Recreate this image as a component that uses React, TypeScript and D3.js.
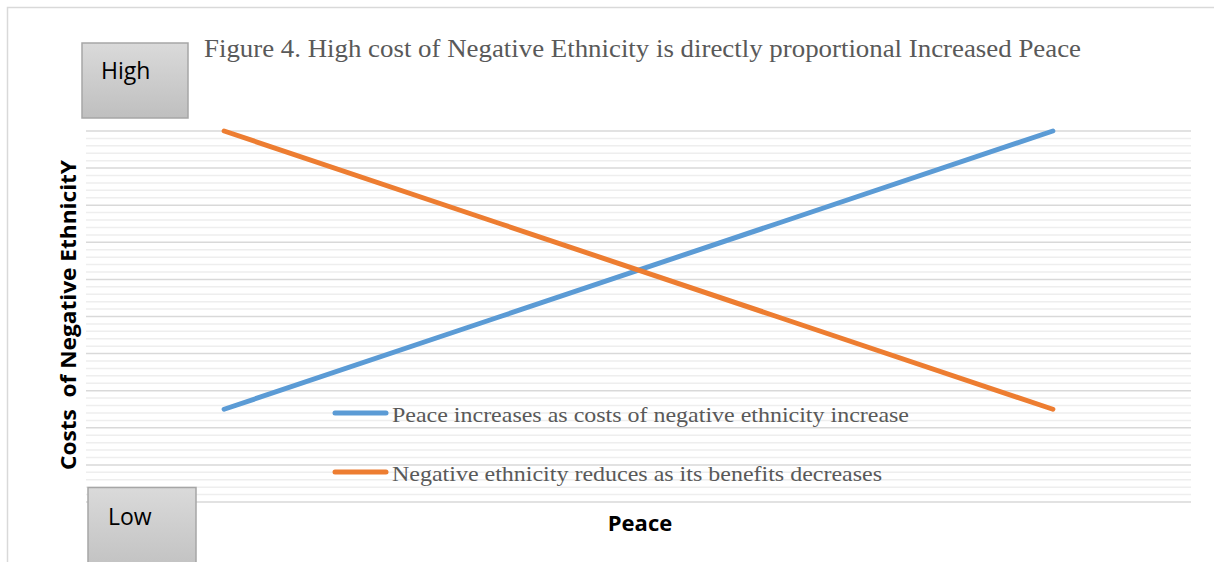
import React from "react";
import * as d3 from "d3";

// Chart data
const categories = ["1", "2", "3", "4"];
const peaceValues = [2.5, 5, 7.5, 10];
const ethnicityValues = [10, 7.5, 5, 2.5];
const seriesNames = [
  "Peace increases as costs of negative ethnicity increase",
  "Negative ethnicity reduces as its benefits decreases",
];
const seriesColors = ["#5b9bd5", "#ed7d31"];
const titleText =
  "Figure 4. High cost of Negative Ethnicity is directly proportional Increased Peace";
const yAxisTitle = "Costs  of Negative EthnicitY";
const xAxisTitle = "Peace";
const highLabel = "High";
const lowLabel = "Low";

const W = 1215;
const H = 562;
const plot = { left: 86, right: 1191, top: 131, bottom: 502 };

export default function App() {
  const x = d3
    .scaleBand<string>()
    .domain(categories)
    .range([plot.left, plot.right]);
  const y = d3.scaleLinear().domain([0, 10]).range([plot.bottom, plot.top]);

  const majorTicks = y.ticks(10);
  const minorTicks = d3.range(0, 10.0001, 0.2).filter(
    (v) => Math.abs(v - Math.round(v)) > 1e-6
  );

  const line = d3
    .line<number>()
    .x((_, i) => (x(categories[i]) as number) + x.bandwidth() / 2)
    .y((v) => y(v));

  const series = [peaceValues, ethnicityValues];
  const sans = "'Open Sans', 'Liberation Sans', sans-serif";
  const serif = "'Liberation Serif', 'Times New Roman', serif";

  return (
    <svg
      width={W}
      height={H}
      style={{ position: "absolute", left: 0, top: 0, background: "#fff" }}
    >
      <defs>
        <linearGradient id="boxFill" x1="0" y1="0" x2="0" y2="1">
          <stop offset="0" stopColor="#dadada" />
          <stop offset="1" stopColor="#bfbfbf" />
        </linearGradient>
      </defs>

      {/* frame */}
      <path d={`M7.5,${H} V7.5 H${W - 1}`} fill="none" stroke="#d9d9d9" strokeWidth={1.5} />

      {/* minor gridlines */}
      {minorTicks.map((t) => (
        <line
          key={"m" + t}
          x1={plot.left}
          x2={plot.right}
          y1={y(t)}
          y2={y(t)}
          stroke="#eeeeee"
          strokeWidth={1.5}
        />
      ))}
      {/* major gridlines */}
      {majorTicks.map((t) => (
        <line
          key={"M" + t}
          x1={plot.left}
          x2={plot.right}
          y1={y(t)}
          y2={y(t)}
          stroke="#d9d9d9"
          strokeWidth={1.5}
        />
      ))}

      {/* series */}
      {series.map((vals, i) => (
        <path
          key={i}
          d={line(vals) || ""}
          fill="none"
          stroke={seriesColors[i]}
          strokeWidth={5}
          strokeLinecap="round"
        />
      ))}

      {/* legend */}
      {seriesNames.map((name, i) => {
        const ly = 413 + i * 59;
        return (
          <g key={name}>
            <line
              x1={335}
              x2={386}
              y1={ly}
              y2={ly}
              stroke={seriesColors[i]}
              strokeWidth={5}
              strokeLinecap="round"
            />
            <text
              x={392}
              y={ly + 9}
              fontFamily={serif}
              fontSize={22}
              fill="#595959"
              textLength={i === 0 ? 517 : 490}
              lengthAdjust="spacingAndGlyphs"
            >
              {name}
            </text>
          </g>
        );
      })}

      {/* title */}
      <text
        x={204}
        y={57}
        fontFamily={serif}
        fontSize={26}
        fill="#595959"
        textLength={877}
        lengthAdjust="spacingAndGlyphs"
      >
        {titleText}
      </text>

      {/* High / Low boxes */}
      <rect x={82} y={43} width={106} height={75} fill="url(#boxFill)" stroke="#a6a6a6" strokeWidth={1.5} />
      <text x={101} y={79} fontFamily={sans} fontSize={23} fill="#000">
        {highLabel}
      </text>
      <rect x={88} y={487.5} width={108} height={90} fill="url(#boxFill)" stroke="#a6a6a6" strokeWidth={1.5} />
      <text x={108} y={525} fontFamily={sans} fontSize={23} fill="#000">
        {lowLabel}
      </text>

      {/* axis titles */}
      <text
        transform={`translate(76,315) rotate(-90)`}
        textAnchor="middle"
        fontFamily={sans}
        fontWeight="bold"
        fontSize={22}
        fill="#000"
        style={{ whiteSpace: "pre" }}
        textLength={310}
        lengthAdjust="spacingAndGlyphs"
      >
        {yAxisTitle}
      </text>
      <text
        x={640}
        y={531}
        textAnchor="middle"
        fontFamily={sans}
        fontWeight="bold"
        fontSize={22}
        fill="#000"
      >
        {xAxisTitle}
      </text>
    </svg>
  );
}
